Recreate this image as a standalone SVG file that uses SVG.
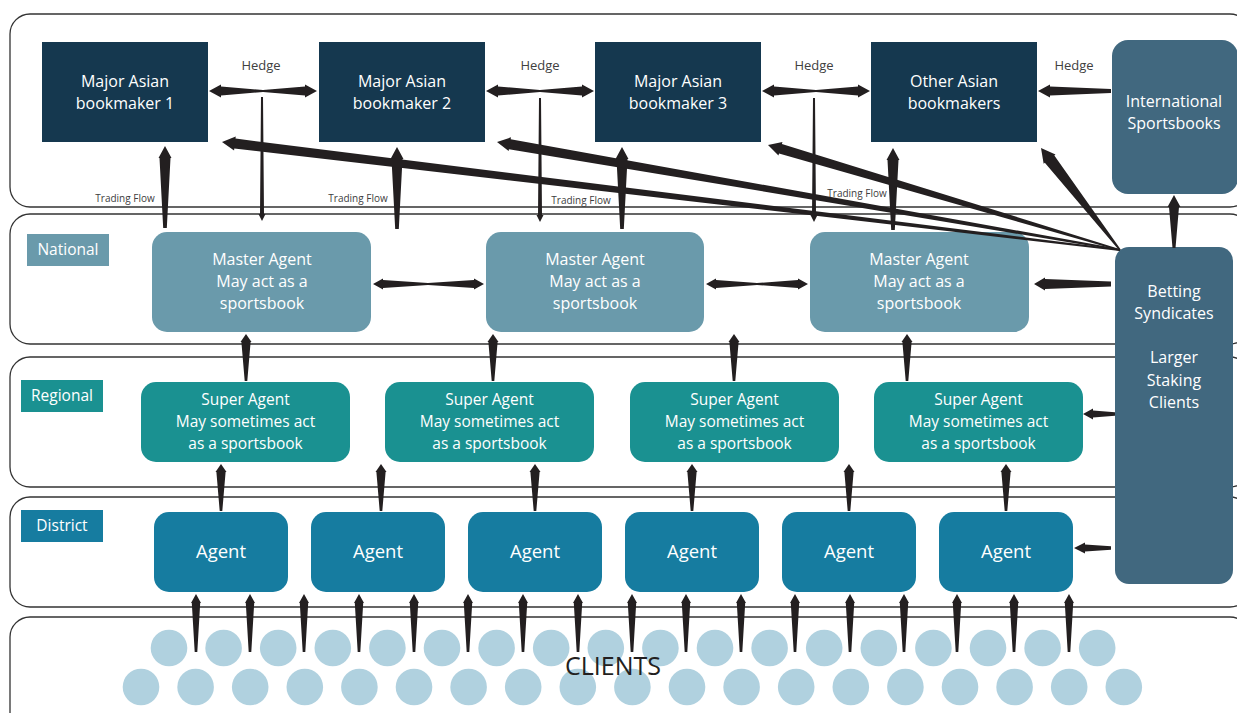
<svg xmlns="http://www.w3.org/2000/svg" xmlns:xlink="http://www.w3.org/1999/xlink" width="1237" height="713" viewBox="0 0 1237 713">
<style>
.band{fill:#fff;stroke:#333;stroke-width:1.3}
.t{font-family:"Open Sans","Noto Sans","Liberation Sans",sans-serif;text-anchor:middle;fill:#fff}
.bt{font-size:16px}
.st{font-size:15.5px}
.bs{font-size:16px}
.lbl{font-size:15.5px}
.agt{font-size:18.5px}
.hedge{font-size:13px;fill:#404040}
.tf{font-size:10px;fill:#404040}
.bm{fill:#15384f}
.intl{fill:#41687f}
.ma{fill:#6a9aab}
.sa{fill:#1a9191}
.ag{fill:#167ca0}
.cl{fill:#b0d1df}
.ar{fill:#231f20}
</style>
<defs>
<path id="aC" d="M0,0 L5,9 L4.2,9 L1.3,58 L-1.3,58 L-4.2,9 L-5,9 Z"/>
<path id="aV" d="M0,0 L5.5,8 L4.6,8 L1.3,47 L-1.3,47 L-4.6,8 L-5.5,8 Z"/>
<path id="aT" d="M0,0 L6.5,12 L5.5,12 L1.8,82 L-1.8,82 L-5.5,12 L-6.5,12 Z"/>
<path id="aD" d="M0,0 L-3.5,-7 L-2,-7 L-1,-124 L1,-124 L2,-7 L3.5,-7 Z"/>
<path id="aH" d="M0,0 L12,-6.5 L12,-4.5 L54,-1 L96,-4.5 L96,-6.5 L108,0 L96,6.5 L96,4.5 L54,1 L12,4.5 L12,6.5 Z"/>
</defs>

<g id="bands">
<rect class="band" x="10" y="14" width="1240" height="193" rx="20"/>
<rect class="band" x="10" y="214" width="1240" height="130" rx="20"/>
<rect class="band" x="10" y="357" width="1240" height="130" rx="20"/>
<rect class="band" x="10" y="497" width="1240" height="110" rx="20"/>
<rect class="band" x="10" y="617" width="1240" height="130" rx="20"/>
</g>

<g id="label-national"><rect class="ma" x="27" y="234" width="82" height="32"/><text class="t lbl" x="68" y="254.5">National</text></g>
<g id="label-regional"><rect class="sa" x="21" y="380" width="82" height="32"/><text class="t lbl" x="62" y="400.5">Regional</text></g>
<g id="label-district"><rect class="ag" x="21" y="510" width="82" height="32"/><text class="t lbl" x="62" y="530.5">District</text></g>

<g id="clients">
<g class="cl">
<circle cx="169" cy="648" r="18.3"/><circle cx="223.6" cy="648" r="18.3"/><circle cx="278.2" cy="648" r="18.3"/><circle cx="332.8" cy="648" r="18.3"/><circle cx="387.4" cy="648" r="18.3"/><circle cx="442" cy="648" r="18.3"/><circle cx="496.6" cy="648" r="18.3"/><circle cx="551.2" cy="648" r="18.3"/><circle cx="605.8" cy="648" r="18.3"/><circle cx="660.4" cy="648" r="18.3"/><circle cx="715" cy="648" r="18.3"/><circle cx="769.6" cy="648" r="18.3"/><circle cx="824.2" cy="648" r="18.3"/><circle cx="878.8" cy="648" r="18.3"/><circle cx="933.4" cy="648" r="18.3"/><circle cx="988" cy="648" r="18.3"/><circle cx="1042.6" cy="648" r="18.3"/><circle cx="1097.2" cy="648" r="18.3"/>
<circle cx="141" cy="687" r="18.3"/><circle cx="195.6" cy="687" r="18.3"/><circle cx="250.2" cy="687" r="18.3"/><circle cx="304.8" cy="687" r="18.3"/><circle cx="359.4" cy="687" r="18.3"/><circle cx="414" cy="687" r="18.3"/><circle cx="468.6" cy="687" r="18.3"/><circle cx="523.2" cy="687" r="18.3"/><circle cx="577.8" cy="687" r="18.3"/><circle cx="632.4" cy="687" r="18.3"/><circle cx="687" cy="687" r="18.3"/><circle cx="741.6" cy="687" r="18.3"/><circle cx="796.2" cy="687" r="18.3"/><circle cx="850.8" cy="687" r="18.3"/><circle cx="905.4" cy="687" r="18.3"/><circle cx="960" cy="687" r="18.3"/><circle cx="1014.6" cy="687" r="18.3"/><circle cx="1069.2" cy="687" r="18.3"/><circle cx="1123.8" cy="687" r="18.3"/>
</g>
<text x="613" y="675" style="font-family:'Open Sans','Noto Sans',sans-serif;font-size:25px;fill:#231f20;text-anchor:middle">CLIENTS</text>
</g>

<g id="bm1"><rect class="bm" x="42" y="42" width="166" height="100"/><text class="t bt" x="125" y="87">Major Asian</text><text class="t bt" x="125" y="109">bookmaker 1</text></g>
<g id="bm2"><rect class="bm" x="319" y="42" width="166" height="100"/><text class="t bt" x="402" y="87">Major Asian</text><text class="t bt" x="402" y="109">bookmaker 2</text></g>
<g id="bm3"><rect class="bm" x="595" y="42" width="166" height="100"/><text class="t bt" x="678" y="87">Major Asian</text><text class="t bt" x="678" y="109">bookmaker 3</text></g>
<g id="bm4"><rect class="bm" x="871" y="42" width="166" height="100"/><text class="t bt" x="954" y="87">Other Asian</text><text class="t bt" x="954" y="109">bookmakers</text></g>
<g id="intl"><rect class="intl" x="1112" y="40" width="126" height="154" rx="16"/><text class="t bt" x="1174" y="107">International</text><text class="t bt" x="1174" y="129">Sportsbooks</text></g>

<g id="ma1"><rect class="ma" x="152" y="232" width="219" height="100" rx="15"/><text class="t bt" x="262" y="265">Master Agent</text><text class="t bt" x="262" y="287">May act as a</text><text class="t bt" x="262" y="309">sportsbook</text></g>
<g id="ma2"><rect class="ma" x="486" y="232" width="218" height="100" rx="15"/><text class="t bt" x="595" y="265">Master Agent</text><text class="t bt" x="595" y="287">May act as a</text><text class="t bt" x="595" y="309">sportsbook</text></g>
<g id="ma3"><rect class="ma" x="810" y="232" width="219" height="100" rx="15"/><text class="t bt" x="919" y="265">Master Agent</text><text class="t bt" x="919" y="287">May act as a</text><text class="t bt" x="919" y="309">sportsbook</text></g>

<g id="sa1"><rect class="sa" x="141" y="382" width="209" height="80" rx="15"/><text class="t st" x="245.5" y="404.5">Super Agent</text><text class="t st" x="245.5" y="426.5">May sometimes act</text><text class="t st" x="245.5" y="448.5">as a sportsbook</text></g>
<g id="sa2"><rect class="sa" x="385" y="382" width="209" height="80" rx="15"/><text class="t st" x="489.5" y="404.5">Super Agent</text><text class="t st" x="489.5" y="426.5">May sometimes act</text><text class="t st" x="489.5" y="448.5">as a sportsbook</text></g>
<g id="sa3"><rect class="sa" x="630" y="382" width="209" height="80" rx="15"/><text class="t st" x="734.5" y="404.5">Super Agent</text><text class="t st" x="734.5" y="426.5">May sometimes act</text><text class="t st" x="734.5" y="448.5">as a sportsbook</text></g>
<g id="sa4"><rect class="sa" x="874" y="382" width="209" height="80" rx="15"/><text class="t st" x="978.5" y="404.5">Super Agent</text><text class="t st" x="978.5" y="426.5">May sometimes act</text><text class="t st" x="978.5" y="448.5">as a sportsbook</text></g>

<g id="ag1"><rect class="ag" x="154" y="512" width="134" height="80" rx="15"/><text class="t agt" x="221" y="558">Agent</text></g>
<g id="ag2"><rect class="ag" x="311" y="512" width="134" height="80" rx="15"/><text class="t agt" x="378" y="558">Agent</text></g>
<g id="ag3"><rect class="ag" x="468" y="512" width="134" height="80" rx="15"/><text class="t agt" x="535" y="558">Agent</text></g>
<g id="ag4"><rect class="ag" x="625" y="512" width="134" height="80" rx="15"/><text class="t agt" x="692" y="558">Agent</text></g>
<g id="ag5"><rect class="ag" x="782" y="512" width="134" height="80" rx="15"/><text class="t agt" x="849" y="558">Agent</text></g>
<g id="ag6"><rect class="ag" x="939" y="512" width="134" height="80" rx="15"/><text class="t agt" x="1006" y="558">Agent</text></g>

<g id="syndicates"><rect class="intl" x="1115" y="247" width="118" height="337" rx="14"/><text class="t bs" x="1174" y="297">Betting</text><text class="t bs" x="1174" y="319">Syndicates</text><text class="t bs" x="1174" y="363">Larger</text><text class="t bs" x="1174" y="386">Staking</text><text class="t bs" x="1174" y="408">Clients</text></g>

<g id="connector-labels">
<text class="t hedge" x="261" y="70">Hedge</text>
<text class="t hedge" x="540" y="70">Hedge</text>
<text class="t hedge" x="814" y="70">Hedge</text>
<text class="t hedge" x="1074" y="70">Hedge</text>
<text class="t tf" x="125" y="201.5">Trading Flow</text>
<text class="t tf" x="358" y="201.5">Trading Flow</text>
<text class="t tf" x="581" y="203.5">Trading Flow</text>
<text class="t tf" x="857" y="196.5">Trading Flow</text>
</g>

<g id="connectors" class="ar">
<use xlink:href="#aH" x="209" y="91"/>
<use xlink:href="#aH" x="486" y="91"/>
<use xlink:href="#aH" x="762" y="91"/>
<path d="M0,0 L12,-6.5 L12,-4.5 L73,-2 L73,2 L12,4.5 L12,6.5 Z" transform="translate(1038,91)"/>
<use xlink:href="#aD" x="262" y="221"/>
<use xlink:href="#aD" x="540" y="222"/>
<use xlink:href="#aD" x="814" y="222"/>
<use xlink:href="#aT" x="165" y="146"/>
<use xlink:href="#aT" x="397" y="147"/>
<use xlink:href="#aT" x="622" y="147"/>
<use xlink:href="#aT" x="893" y="148"/>
<path d="M0,0 L13,-7 L13,-5 L904.5,-0.9 L904.5,0.9 L13,5 L13,7 Z" transform="translate(222,142) rotate(6.86)"/>
<path d="M0,0 L13,-7 L13,-5 L632.3,-0.9 L632.3,0.9 L13,5 L13,7 Z" transform="translate(497,142) rotate(9.83)"/>
<path d="M0,0 L13,-7 L13,-5 L367.3,-0.9 L367.3,0.9 L13,5 L13,7 Z" transform="translate(768,145) rotate(16.61)"/>
<path d="M0,0 L14,-7.5 L14,-6 L129,-0.9 L129,0.9 L14,6 L14,7.5 Z" transform="translate(1041,148) rotate(52.24)"/>
<path d="M0,0 L6.5,12 L5,12 L1.5,53 L-1.5,53 L-5,12 L-6.5,12 Z" transform="translate(1174,195)"/>
<path d="M373,284 L383,278.5 L383,280 L428,283 L474,280 L474,278.5 L484,284 L474,289.5 L474,288 L428,285 L383,288 L383,289.5 Z"/>
<path d="M706,284 L716,278.5 L716,280 L757,283 L798,280 L798,278.5 L808,284 L798,289.5 L798,288 L757,285 L716,288 L716,289.5 Z"/>
<path d="M0,0 L11,-6.5 L11,-5 L77,-2.5 L77,2.5 L11,5 L11,6.5 Z" transform="translate(1034,284)"/>
<use xlink:href="#aV" x="246" y="334"/>
<use xlink:href="#aV" x="493" y="334"/>
<use xlink:href="#aV" x="734" y="334"/>
<use xlink:href="#aV" x="907" y="334"/>
<path d="M0,0 L10,-5.5 L10,-3.5 L32,-1.8 L32,1.8 L10,3.5 L10,5.5 Z" transform="translate(1083,414)"/>
<use xlink:href="#aV" x="221" y="464"/>
<use xlink:href="#aV" x="381" y="464"/>
<use xlink:href="#aV" x="535" y="464"/>
<use xlink:href="#aV" x="692" y="464"/>
<use xlink:href="#aV" x="849" y="464"/>
<use xlink:href="#aV" x="1006" y="464"/>
<path d="M0,0 L11,-5.5 L11,-3.5 L37,-1.8 L37,1.8 L11,3.5 L11,5.5 Z" transform="translate(1074,548)"/>
<use xlink:href="#aC" x="196" y="594"/>
<use xlink:href="#aC" x="250" y="594"/>
<use xlink:href="#aC" x="304" y="594"/>
<use xlink:href="#aC" x="359" y="594"/>
<use xlink:href="#aC" x="414" y="594"/>
<use xlink:href="#aC" x="468" y="594"/>
<use xlink:href="#aC" x="523" y="594"/>
<use xlink:href="#aC" x="578" y="594"/>
<use xlink:href="#aC" x="632" y="594"/>
<use xlink:href="#aC" x="686" y="594"/>
<use xlink:href="#aC" x="741" y="594"/>
<use xlink:href="#aC" x="795" y="594"/>
<use xlink:href="#aC" x="850" y="594"/>
<use xlink:href="#aC" x="904" y="594"/>
<use xlink:href="#aC" x="957" y="594"/>
<use xlink:href="#aC" x="1014" y="594"/>
<use xlink:href="#aC" x="1069" y="594"/>
</g>
</svg>
